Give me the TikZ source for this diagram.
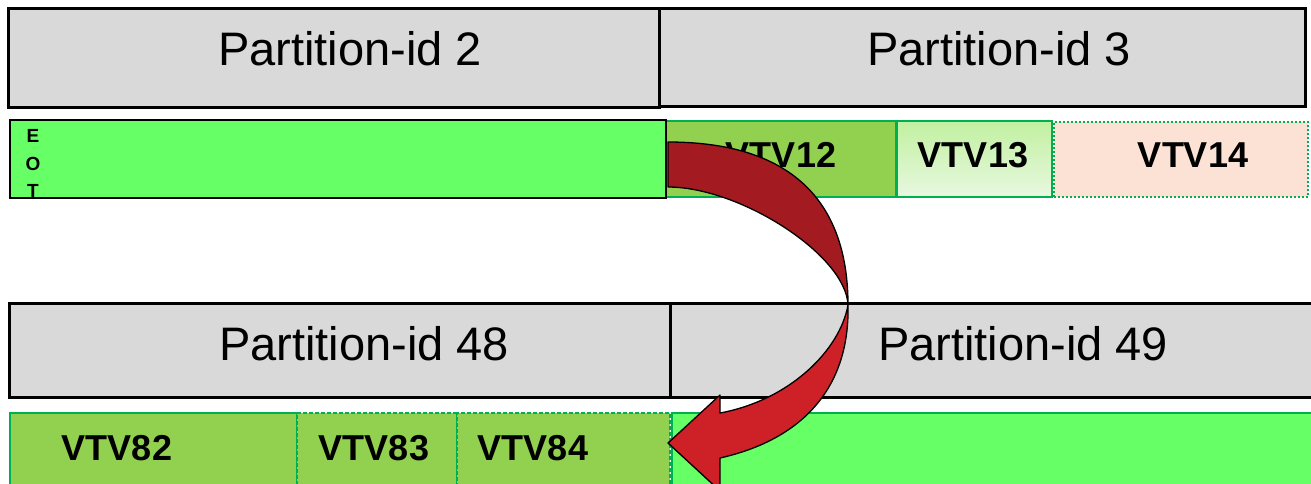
\documentclass[tikz,border=0pt]{standalone}
\usepackage{fontspec}
\setmainfont{Liberation Sans}
\definecolor{partgray}{HTML}{D9D9D9}
\definecolor{brightgreen}{HTML}{66FF66}
\definecolor{midgreen}{HTML}{92D050}
\definecolor{edgegreen}{HTML}{00B050}
\definecolor{peach}{HTML}{FBE2D5}
\definecolor{lgtop}{HTML}{C2F0A0}
\definecolor{lgbot}{HTML}{E8F8E0}
\definecolor{darkred}{HTML}{A31B21}
\definecolor{brightred}{HTML}{CD2027}
\begin{document}
\begin{tikzpicture}[x=1pt,y=-1pt,
  box/.style={anchor=north west, inner sep=0pt, outer sep=0pt},
  part/.style={box, draw=black, line width=3pt, fill=partgray},
  parttext/.style={anchor=base, inner sep=0pt, font=\fontsize{47}{50}\selectfont},
  vtvtext/.style={anchor=base, inner sep=0pt, font=\fontsize{36}{40}\selectfont\bfseries},
  eottext/.style={anchor=base, inner sep=0pt, font=\fontsize{19}{22}\selectfont\bfseries},
  greenedge/.style={draw=edgegreen, line width=1.5pt},
  arrowedge/.style={draw=black, line width=1.3pt, line join=round}]
\useasboundingbox (0,0) rectangle (1311,483);
% partition rows
\node[part, minimum width=651pt, minimum height=99pt] (p2) at (8,8) {};
\node[part, minimum width=646pt, minimum height=98pt] (p3) at (659,8) {};
\node[part, minimum width=661pt, minimum height=94pt] (p48) at (9,303) {};
\node[part, minimum width=660pt, minimum height=94pt] (p49) at (670,303) {};
\node[parttext] (t2) at (350,65) {Partition-id 2};
\node[parttext] (t3) at (999,65) {Partition-id 3};
\node[parttext] (t48) at (364,360) {Partition-id 48};
\node[parttext] (t49) at (1023,360) {Partition-id 49};
% second row
\node[box, greenedge, fill=midgreen, minimum width=230pt, minimum height=76pt] (v12) at (666,121) {};
\node[box, greenedge, top color=lgtop, bottom color=lgbot, minimum width=155pt, minimum height=76pt] (v13) at (897,121) {};
\node[box, draw=edgegreen, line width=2pt, dash pattern=on 2pt off 2pt, fill=peach, minimum width=254pt, minimum height=75pt] (v14) at (1054,122) {};
\node[box, draw=black, line width=2pt, fill=brightgreen, minimum width=656pt, minimum height=78pt] (eot) at (10,120) {};
\node[vtvtext] (t12) at (781,167) {VTV12};
\node[vtvtext] (t13) at (973,167) {VTV13};
\node[vtvtext] (t14) at (1193,167) {VTV14};
\node[eottext] (e1) at (33,142) {E};
\node[eottext] (e2) at (33,170) {O};
\node[eottext] (e3) at (33,197) {T};
% fourth row
\node[box, draw=edgegreen, line width=1.2pt, fill=midgreen, minimum width=287pt, minimum height=80pt] (v82) at (10,413) {};
\node[box, draw=edgegreen, line width=1.2pt, dash pattern=on 4pt off 2pt, fill=midgreen, minimum width=160pt, minimum height=80pt] (v83) at (297,413) {};
\node[box, draw=edgegreen, line width=1.2pt, dash pattern=on 4pt off 2pt, fill=midgreen, minimum width=213pt, minimum height=80pt] (v84) at (457,413) {};
\node[box, greenedge, fill=brightgreen, minimum width=650pt, minimum height=80pt] (g49) at (672,413) {};
\node[vtvtext] (t82) at (117,460) {VTV82};
\node[vtvtext] (t83) at (374,460) {VTV83};
\node[vtvtext] (t84) at (533,460) {VTV84};
% curved arrow
\coordinate (pinch) at (848,305);
\filldraw[arrowedge, fill=darkred] (668,142) .. controls (790,142) and (848,200) .. (pinch)
  .. controls (846,255) and (740,187) .. (668,187) -- cycle;
\filldraw[arrowedge, fill=brightred] (pinch) .. controls (850,390) and (800,440) .. (720,458)
  -- (720,491) -- (668,443) -- (720,395) -- (720,413)
  .. controls (790,400) and (840,350) .. (pinch) -- cycle;
\end{tikzpicture}
\end{document}
